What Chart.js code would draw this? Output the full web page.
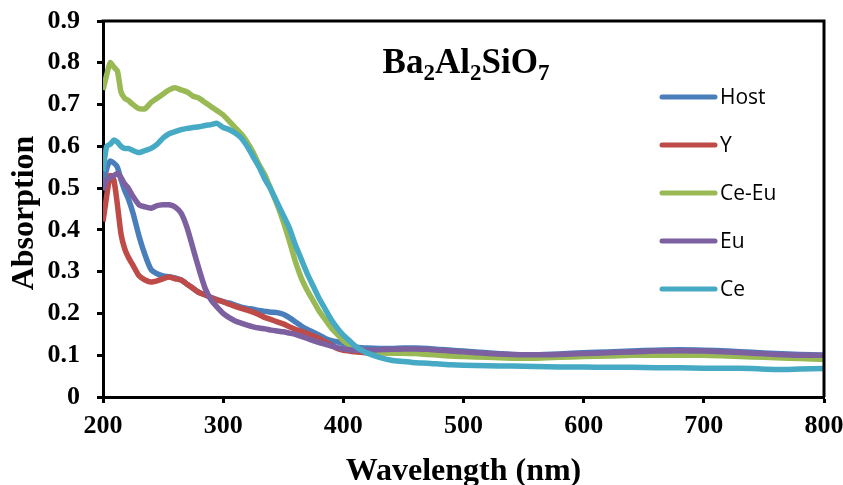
<!DOCTYPE html>
<html>
<head>
<meta charset="utf-8">
<script src="https://cdn.jsdelivr.net/npm/chart.js@4.4.1/dist/chart.umd.min.js"></script>
<style>
html,body{margin:0;padding:0;background:#fff;}
#wrap{width:843px;height:485px;}
</style>
</head>
<body>
<div id="wrap"><canvas id="c" width="843" height="485"></canvas></div>
<script>
const wavelengths = [200,203,206,209,212,215,218,221,225,230,235,240,245,250,255,260,265,270,275,280,285,290,295,300,305,310,315,320,325,330,335,340,345,350,355,360,365,370,375,380,385,390,395,400,405,410,415,420,430,440,450,460,470,480,490,500,520,540,560,580,600,620,640,660,680,700,720,740,760,780,800];

const hostValues = [0.50,0.545,0.565,0.56,0.55,0.52,0.495,0.475,0.44,0.385,0.34,0.305,0.295,0.29,0.288,0.285,0.28,0.27,0.26,0.25,0.245,0.238,0.233,0.228,0.225,0.22,0.215,0.212,0.21,0.207,0.205,0.203,0.202,0.198,0.19,0.18,0.17,0.162,0.155,0.148,0.14,0.135,0.132,0.128,0.123,0.12,0.118,0.117,0.116,0.116,0.117,0.117,0.116,0.114,0.112,0.11,0.106,0.102,0.101,0.103,0.106,0.108,0.11,0.112,0.113,0.112,0.11,0.107,0.104,0.102,0.10];

const yValues = [0.42,0.48,0.53,0.52,0.46,0.39,0.355,0.335,0.315,0.29,0.28,0.275,0.278,0.283,0.287,0.283,0.28,0.27,0.26,0.25,0.244,0.238,0.232,0.228,0.222,0.217,0.212,0.208,0.203,0.197,0.19,0.185,0.18,0.175,0.168,0.162,0.157,0.152,0.146,0.14,0.132,0.124,0.116,0.112,0.11,0.108,0.107,0.106,0.106,0.106,0.106,0.105,0.104,0.103,0.101,0.10,0.097,0.095,0.095,0.097,0.099,0.101,0.102,0.103,0.103,0.102,0.10,0.098,0.097,0.095,0.094];

const ceEuValues = [0.735,0.77,0.80,0.79,0.78,0.73,0.715,0.71,0.70,0.69,0.69,0.705,0.715,0.725,0.735,0.74,0.735,0.73,0.72,0.715,0.705,0.695,0.685,0.675,0.66,0.645,0.63,0.61,0.585,0.555,0.53,0.495,0.46,0.42,0.375,0.325,0.285,0.255,0.23,0.205,0.185,0.165,0.15,0.135,0.125,0.118,0.113,0.11,0.107,0.105,0.105,0.104,0.102,0.10,0.098,0.097,0.095,0.093,0.093,0.095,0.097,0.098,0.10,0.10,0.10,0.10,0.098,0.096,0.094,0.092,0.09];

const euValues = [0.495,0.52,0.525,0.53,0.535,0.525,0.51,0.50,0.48,0.46,0.455,0.452,0.458,0.46,0.46,0.455,0.44,0.405,0.355,0.305,0.26,0.232,0.215,0.20,0.19,0.182,0.177,0.172,0.168,0.165,0.163,0.16,0.158,0.156,0.153,0.15,0.145,0.14,0.135,0.13,0.126,0.122,0.118,0.115,0.113,0.112,0.112,0.112,0.113,0.114,0.115,0.115,0.114,0.112,0.11,0.108,0.104,0.102,0.101,0.102,0.104,0.106,0.108,0.11,0.111,0.11,0.108,0.105,0.102,0.10,0.10];

const ceValues = [0.54,0.60,0.605,0.615,0.61,0.60,0.595,0.595,0.59,0.585,0.59,0.595,0.605,0.62,0.63,0.635,0.64,0.643,0.645,0.647,0.65,0.652,0.655,0.645,0.64,0.632,0.62,0.60,0.575,0.55,0.52,0.495,0.465,0.435,0.405,0.365,0.33,0.295,0.265,0.235,0.21,0.185,0.165,0.148,0.135,0.122,0.112,0.105,0.095,0.088,0.085,0.082,0.081,0.079,0.077,0.076,0.075,0.074,0.073,0.072,0.072,0.071,0.071,0.07,0.07,0.069,0.069,0.068,0.066,0.067,0.068];

const seriesNames = ['Host','Y','Ce-Eu','Eu','Ce'];
const seriesColors = ['#4A7EBB','#BE4B48','#98B954','#7D60A0','#46AAC5'];
const xTickLabels = ['200','300','400','500','600','700','800'];
const yTickLabels = ['0','0.1','0.2','0.3','0.4','0.5','0.6','0.7','0.8','0.9'];
const chartTitleParts = [['Ba',false],['2',true],['Al',false],['2',true],['SiO',false],['7',true]];
const xTitle = 'Wavelength (nm)';
const yTitle = 'Absorption';

const allValues = [hostValues, yValues, ceEuValues, euValues, ceValues];

const SERIF = '"Liberation Serif", "Times New Roman", serif';

function toPoints(vals){ return wavelengths.map((w,i)=>({x:w, y:vals[i]})); }

const datasets = seriesNames.map((name,i)=>({
  label: name,
  data: toPoints(allValues[i]),
  borderColor: seriesColors[i],
  backgroundColor: seriesColors[i],
  borderWidth: 5.5,
  pointRadius: 0,
  tension: 0.2,
  fill: false,
  order: seriesNames.length - i
}));

const decorPlugin = {
  id: 'decor',
  afterDraw(chart){
    const ctx = chart.ctx;
    const a = chart.chartArea;
    ctx.save();
    ctx.strokeStyle = '#000';
    ctx.lineWidth = 3;
    ctx.beginPath();
    ctx.moveTo(a.left - 1.5, a.top);
    ctx.lineTo(a.right, a.top);
    ctx.lineTo(a.right, a.bottom);
    ctx.stroke();

    const mainFont = 'bold 35px ' + SERIF;
    const subFont = 'bold 23px ' + SERIF;
    let total = 0;
    chartTitleParts.forEach(([t,sub])=>{ ctx.font = sub?subFont:mainFont; total += ctx.measureText(t).width; });
    let x = 466 - total/2;
    const base = 73;
    ctx.fillStyle = '#000';
    ctx.textBaseline = 'alphabetic';
    ctx.textAlign = 'left';
    chartTitleParts.forEach(([t,sub])=>{
      ctx.font = sub?subFont:mainFont;
      ctx.fillText(t, x, sub ? base+7 : base);
      x += ctx.measureText(t).width;
    });

    ctx.font = 'bold 32px ' + SERIF;
    ctx.textAlign = 'center';
    ctx.fillText(xTitle, (a.left+a.right)/2, 480);
    ctx.save();
    ctx.translate(33, 213);
    ctx.rotate(-Math.PI/2);
    ctx.font = 'bold 32px ' + SERIF;
    ctx.fillText(yTitle, 0, 0);
    ctx.restore();

    ctx.font = '21px "Open Sans", sans-serif';
    ctx.textAlign = 'left';
    ctx.textBaseline = 'middle';
    chart.data.datasets.forEach((ds,i)=>{
      const ly = 97 + i*48;
      ctx.strokeStyle = ds.borderColor;
      ctx.lineWidth = 5;
      ctx.lineCap = 'round';
      ctx.beginPath();
      ctx.moveTo(662, ly);
      ctx.lineTo(715, ly);
      ctx.stroke();
      ctx.fillStyle = '#000';
      ctx.fillText(ds.label, 720, ly+1);
    });
    ctx.restore();
  }
};

new Chart(document.getElementById('c'), {
  type: 'line',
  data: { datasets },
  options: {
    responsive: false,
    animation: false,
    devicePixelRatio: 1,
    layout: { padding: { top: 21, right: 19, left: 0, bottom: 0 } },
    plugins: { legend: { display: false }, tooltip: { enabled: false }, title: { display: false } },
    scales: {
      x: {
        type: 'linear', min: 200, max: 800,
        ticks: {
          stepSize: 100, color: '#000', padding: 8, maxRotation: 0,
          font: { family: SERIF, size: 26, weight: 'bold' },
          callback: (v, i) => xTickLabels[i]
        },
        grid: { drawOnChartArea: false, drawTicks: true, tickLength: 6, tickWidth: 3, tickColor: '#000', color: '#000' },
        border: { display: true, width: 3, color: '#000' },
        afterFit(scale){ scale.height = 88; scale.paddingLeft = 0; scale.paddingRight = 0; }
      },
      y: {
        min: 0, max: 0.9,
        ticks: {
          stepSize: 0.1, color: '#000', padding: 17,
          font: { family: SERIF, size: 26, weight: 'bold' },
          callback: (v, i) => yTickLabels[i]
        },
        grid: { drawOnChartArea: false, drawTicks: true, tickLength: 6, tickWidth: 3, tickColor: '#000', color: '#000' },
        border: { display: true, width: 3, color: '#000' },
        afterFit(scale){ scale.width = 103; scale.paddingTop = 0; scale.paddingBottom = 0; }
      }
    }
  },
  plugins: [decorPlugin]
});
</script>
</body>
</html>
